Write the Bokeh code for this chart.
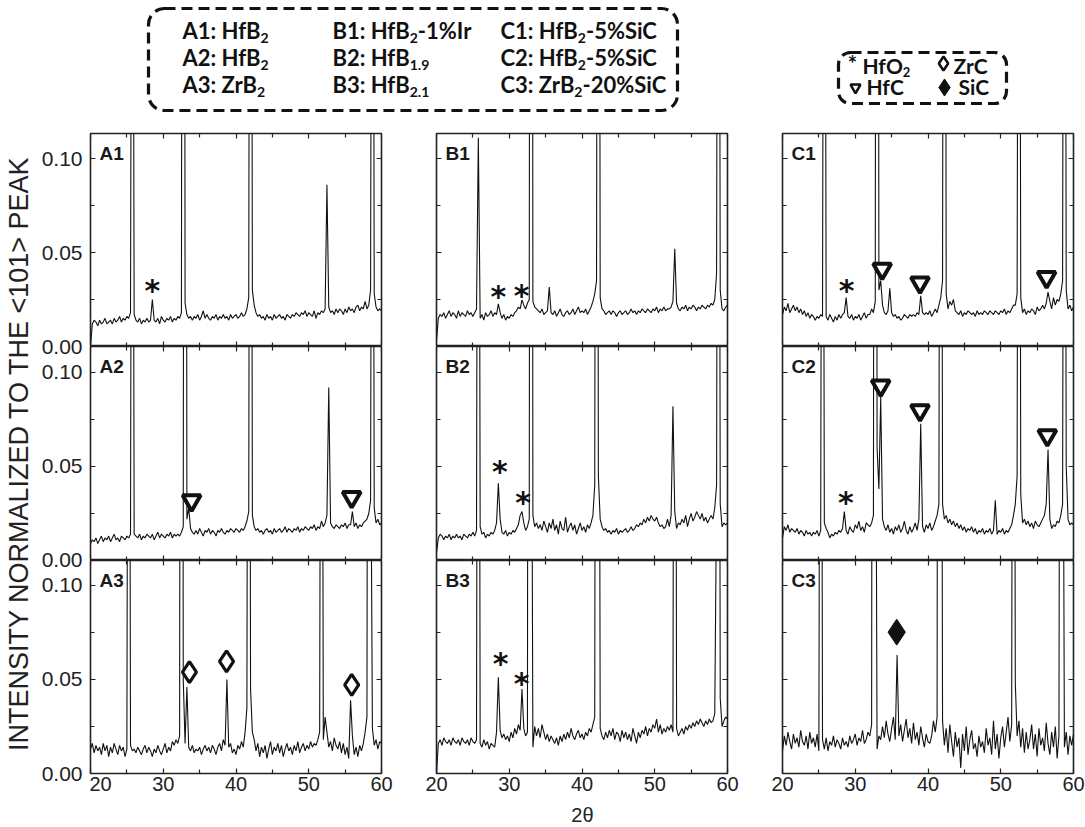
import subprocess
import numpy as np
from bokeh.plotting import figure
from bokeh.models import (Range1d, LinearAxis, FixedTicker, CustomJSTickFormatter,
                          BoxAnnotation, ColumnDataSource, Label)
from bokeh.layouts import row, column
from bokeh.core.properties import value
from bokeh.embed import file_html
from bokeh.resources import INLINE

# ---------------- data (baseline in units of 0.001, 2theta grid 20..60 step 0.25) -------------
X0, STEP = 20.0, 0.25

A1_BASE = [0, 12, 14, 13, 11, 14, 12, 13,
           15, 12, 13, 14, 12, 15, 13, 14,
           16, 13, 15, 14, 16, 15, 18, 17,
           17, 14, 13, 15, 12, 14, 13, 15,
           13, 14, 16, 14, 13, 15, 12, 16,
           14, 13, 15, 14, 16, 13, 15, 14,
           16, 15, 18, 19, 23, 17, 15, 16,
           14, 16, 15, 17, 14, 16, 19, 15,
           17, 15, 14, 16, 15, 17, 14, 16,
           15, 17, 15, 16, 14, 17, 15, 16,
           17, 15, 16, 18, 16, 17, 20, 26,
           30, 30, 22, 18, 16, 17, 15, 16,
           14, 17, 15, 16, 14, 17, 15, 16,
           17, 15, 16, 14, 17, 16, 15, 17,
           16, 18, 17, 16, 18, 17, 19, 16,
           18, 17, 16, 19, 15, 18, 17, 19,
           18, 20, 20, 21, 18, 19, 17, 20,
           18, 20, 19, 17, 20, 18, 21, 19,
           20, 18, 21, 22, 19, 21, 20, 24,
           20, 22, 30, 30, 28, 21, 19, 20,
           19]
A1_PEAKS = [(25.75, 0.45), (28.5, 0.025), (32.75, 1.0), (42.0, 0.62), (52.5, 0.086), (58.75, 0.52)]

A2_BASE = [9, 11, 10, 12, 9, 11, 13, 10,
           12, 11, 13, 10, 12, 14, 11, 12,
           10, 13, 12, 11, 13, 12, 14, 12,
           14, 13, 12, 14, 11, 13, 12, 14,
           13, 12, 14, 11, 13, 15, 12, 14,
           13, 12, 14, 13, 15, 12, 14, 13,
           14, 13, 15, 18, 20, 22, 20, 17,
           15, 14, 16, 14, 17, 15, 13, 16,
           15, 17, 14, 16, 15, 13, 16, 15,
           17, 15, 14, 16, 15, 17, 16, 15,
           17, 16, 15, 17, 16, 18, 21, 26,
           20, 24, 18, 16, 17, 15, 16, 14,
           16, 17, 15, 16, 14, 17, 15, 16,
           17, 15, 16, 18, 15, 17, 16, 15,
           17, 16, 18, 15, 17, 16, 18, 17,
           16, 18, 17, 19, 16, 18, 17, 21,
           18, 20, 24, 20, 20, 18, 17, 19,
           18, 17, 19, 18, 20, 17, 19, 19,
           20, 18, 20, 17, 19, 18, 20, 21,
           22, 25, 32, 30, 28, 20, 22, 19,
           20]
A2_PEAKS = [(25.75, 0.5), (33.0, 1.0), (33.5, 0.028), (42.0, 0.6), (52.75, 0.092),
            (56.0, 0.026), (58.75, 0.5)]

A3_BASE = [13, 16, 11, 15, 12, 14, 10, 16,
           12, 15, 9, 14, 11, 16, 13, 10,
           15, 12, 14, 9, 13, 15, 15, 12,
           13, 11, 14, 12, 10, 13, 15, 11,
           14, 12, 9, 13, 11, 15, 12, 10,
           13, 16, 11, 14, 12, 17, 15, 18,
           16, 20, 20, 20, 16, 20, 14, 12,
           15, 11, 13, 12, 14, 10, 13, 15,
           12, 14, 11, 15, 13, 10, 14, 16,
           12, 18, 15, 15, 14, 16, 11, 13,
           10, 15, 13, 17, 14, 22, 35, 35,
           20, 22, 18, 12, 16, 9, 14, 11,
           15, 8, 13, 17, 10, 14, 12, 16,
           11, 15, 9, 13, 16, 12, 14, 10,
           15, 12, 17, 11, 14, 16, 12, 15,
           13, 17, 14, 16, 15, 18, 22, 22,
           18, 30, 22, 14, 17, 12, 19, 15,
           13, 17, 11, 16, 10, 14, 8, 8,
           20, 10, 14, 9, 15, 12, 16, 22,
           30, 30, 30, 24, 15, 18, 13, 17,
           16]
A3_PEAKS = [(25.25, 0.5), (32.5, 1.0), (32.75, 0.05), (33.25, 0.046), (38.75, 0.05),
            (41.75, 0.6), (42.0, 0.045), (51.75, 0.5), (55.75, 0.039), (58.25, 0.7), (58.5, 0.2)]

B1_BASE = [3, 15, 17, 16, 18, 15, 17, 19,
           16, 18, 17, 15, 19, 16, 18, 17,
           16, 19, 17, 18, 16, 18, 20, 17,
           15, 17, 14, 18, 16, 17, 19, 16,
           18, 17, 22, 18, 15, 17, 14, 16,
           15, 17, 16, 18, 19, 21, 20, 22,
           22, 20, 23, 25, 24, 24, 21, 20,
           19, 18, 20, 17, 18, 19, 17, 18,
           17, 19, 16, 18, 20, 17, 16, 18,
           19, 17, 18, 20, 17, 19, 21, 18,
           19, 18, 20, 17, 19, 21, 24, 28,
           35, 30, 26, 20, 19, 17, 18, 19,
           17, 19, 18, 16, 18, 19, 17, 18,
           19, 17, 18, 20, 18, 19, 17, 19,
           18, 20, 19, 18, 20, 19, 18, 20,
           19, 21, 18, 20, 19, 21, 19, 20,
           20, 21, 24, 24, 23, 20, 19, 21,
           20, 22, 19, 21, 20, 22, 21, 19,
           21, 20, 22, 21, 20, 22, 21, 23,
           22, 25, 39, 30, 30, 20, 19, 21,
           22]
B1_PEAKS = [(25.75, 0.111), (28.5, 0.0227), (31.75, 0.0248), (33.0, 1.0), (35.5, 0.0316),
            (42.25, 0.7), (52.75, 0.052), (58.75, 0.55)]

B2_BASE = [4, 12, 14, 13, 11, 13, 12, 14,
           11, 13, 12, 14, 12, 13, 11, 14,
           13, 12, 14, 13, 15, 13, 16, 15,
           18, 14, 15, 12, 14, 13, 15, 14,
           16, 20, 22, 22, 15, 14, 16, 13,
           15, 14, 16, 15, 17, 19, 24, 24,
           20, 16, 18, 22, 24, 24, 18, 20,
           17, 19, 16, 21, 18, 15, 20, 17,
           22, 16, 19, 14, 21, 17, 16, 23,
           15, 18, 20, 16, 19, 14, 17, 20,
           16, 18, 15, 19, 17, 20, 24, 40,
           40, 45, 22, 18, 16, 17, 15, 16,
           14, 16, 15, 17, 14, 16, 15, 16,
           17, 15, 16, 18, 16, 17, 19, 18,
           20, 19, 22, 20, 23, 21, 24, 22,
           21, 23, 20, 18, 19, 17, 18, 22,
           18, 24, 26, 26, 17, 20, 19, 22,
           20, 24, 18, 22, 25, 21, 23, 26,
           24, 22, 25, 21, 23, 20, 22, 24,
           22, 28, 40, 30, 30, 18, 20, 19,
           20]
B2_PEAKS = [(25.75, 0.5), (28.5, 0.041), (31.75, 0.026), (33.0, 1.0), (42.0, 0.7),
            (52.5, 0.082), (58.75, 0.55)]

B3_BASE = [0, 16, 18, 15, 19, 17, 16, 18,
           15, 19, 17, 16, 18, 15, 19, 17,
           16, 18, 15, 19, 17, 16, 18, 18,
           16, 14, 18, 15, 17, 13, 16, 15,
           14, 22, 22, 23, 19, 21, 18, 20,
           17, 22, 19, 24, 21, 26, 23, 23,
           24, 20, 22, 22, 22, 14, 25, 20,
           24, 19, 26, 22, 18, 21, 17, 20,
           18, 16, 19, 15, 20, 17, 21, 18,
           22, 19, 24, 20, 18, 21, 23, 19,
           21, 18, 22, 20, 24, 22, 26, 30,
           30, 30, 24, 20, 18, 22, 19, 23,
           20, 24, 18, 22, 21, 17, 23, 19,
           22, 18, 21, 17, 24, 20, 16, 22,
           19, 23, 21, 25, 20, 24, 22, 26,
           24, 29, 22, 26, 21, 24, 22, 25,
           23, 26, 22, 22, 24, 20, 22, 24,
           21, 25, 23, 26, 24, 27, 25, 28,
           26, 29, 27, 25, 28, 26, 29, 27,
           28, 32, 32, 32, 40, 25, 28, 30,
           29]
B3_PEAKS = [(25.75, 0.6), (28.5, 0.0512), (31.75, 0.045), (32.75, 1.0), (33.0, 0.3),
            (42.0, 0.7), (42.25, 0.5), (52.75, 0.6), (58.5, 0.15), (58.75, 0.6)]

C1_BASE = [17, 21, 19, 23, 18, 20, 22, 19,
           21, 18, 20, 17, 19, 16, 18, 15,
           17, 16, 14, 16, 15, 17, 16, 18,
           16, 14, 17, 15, 13, 16, 14, 17,
           15, 17, 18, 20, 16, 15, 17, 14,
           16, 15, 17, 14, 16, 18, 15, 17,
           17, 20, 18, 24, 20, 30, 35, 22,
           18, 17, 19, 20, 18, 16, 17, 15,
           16, 14, 15, 17, 16, 15, 17, 16,
           17, 16, 18, 17, 20, 18, 17, 18,
           17, 19, 16, 18, 20, 18, 22, 26,
           35, 30, 28, 20, 24, 22, 25, 19,
           18, 17, 19, 16, 18, 17, 19, 18,
           17, 18, 16, 19, 17, 18, 17, 19,
           18, 17, 19, 18, 17, 19, 18, 17,
           19, 18, 20, 17, 19, 18, 20, 22,
           22, 28, 30, 26, 18, 20, 17, 19,
           18, 20, 19, 17, 21, 19, 20, 22,
           20, 23, 25, 24, 20, 26, 22, 25,
           24, 28, 35, 30, 30, 20, 22, 19,
           21]
C1_PEAKS = [(25.75, 0.5), (28.75, 0.026), (33.0, 1.0), (33.5, 0.035), (34.75, 0.031),
            (39.0, 0.027), (42.25, 0.7), (52.5, 0.5), (56.5, 0.029), (58.75, 0.55)]

C2_BASE = [12, 18, 16, 19, 15, 17, 16, 15,
           17, 14, 16, 15, 13, 16, 14, 15,
           13, 15, 14, 16, 13, 16, 15, 20,
           17, 15, 12, 14, 13, 15, 14, 16,
           15, 17, 20, 16, 14, 18, 16, 15,
           19, 17, 21, 16, 18, 15, 20, 19,
           18, 20, 24, 20, 20, 20, 20, 22,
           18, 16, 19, 15, 17, 14, 18, 16,
           19, 15, 17, 21, 16, 14, 18, 15,
           17, 20, 16, 22, 18, 18, 15, 19,
           17, 20, 16, 18, 21, 24, 30, 30,
           30, 22, 24, 20, 22, 19, 21, 18,
           20, 17, 19, 16, 18, 15, 17, 16,
           18, 15, 17, 14, 16, 15, 17, 14,
           16, 15, 17, 14, 16, 14, 14, 16,
           15, 17, 14, 16, 15, 17, 19, 24,
           30, 45, 30, 35, 20, 22, 19, 21,
           18, 20, 17, 21, 19, 18, 20, 22,
           24, 30, 30, 22, 17, 19, 18, 21,
           20, 24, 30, 30, 50, 22, 19, 20,
           19]
C2_PEAKS = [(25.5, 0.5), (28.5, 0.026), (32.75, 1.0), (33.0, 0.06), (33.25, 0.038),
            (33.5, 0.087), (39.0, 0.0727), (41.75, 0.6), (49.25, 0.032), (52.5, 0.6),
            (56.5, 0.059), (58.75, 0.5)]

C3_BASE = [12, 20, 15, 22, 17, 13, 21, 16,
           19, 14, 23, 17, 15, 20, 13, 22,
           16, 19, 14, 21, 12, 18, 18, 13,
           19, 12, 17, 15, 20, 14, 18, 16,
           13, 19, 15, 17, 14, 20, 16, 18,
           21, 15, 19, 17, 23, 16, 18, 22,
           20, 26, 26, 26, 13, 20, 18, 25,
           19, 28, 21, 17, 24, 30, 18, 18,
           20, 26, 17, 23, 29, 19, 24, 16,
           27, 18, 22, 15, 25, 19, 14, 21,
           17, 16, 20, 28, 22, 30, 30, 30,
           28, 15, 24, 11, 26, 17, 9, 22,
           14, 19, 3, 21, 12, 25, 10, 18,
           23, 13, 16, 9, 20, 14, 17, 11,
           24, 15, 19, 10, 28, 13, 21, 8,
           19, 25, 14, 22, 30, 17, 26, 26,
           48, 20, 28, 14, 24, 11, 22, 13,
           18, 26, 13, 21, 9, 24, 15, 19,
           12, 27, 16, 10, 22, 14, 25, 8,
           20, 20, 20, 14, 22, 10, 20, 15,
           21]
C3_PEAKS = [(25.25, 0.5), (32.5, 1.0), (32.75, 0.3), (35.75, 0.063), (41.5, 1.0),
            (41.75, 0.5), (51.75, 0.6), (52.0, 0.048), (58.25, 0.6), (58.5, 0.3)]

# phase markers (2theta, intensity)
STAR = {"A1": [(28.5, 0.0324)], "B1": [(28.5, 0.029), (31.7, 0.0298)],
        "B2": [(28.7, 0.050), (31.9, 0.0337)], "B3": [(28.8, 0.061), (31.7, 0.0507)],
        "C1": [(28.8, 0.0324)], "C2": [(28.7, 0.0337)]}
HFC = {"A2": [(33.9, 0.0319), (55.9, 0.0337)],
       "C1": [(33.7, 0.0413), (38.9, 0.034), (56.3, 0.0368)],
       "C2": [(33.5, 0.093), (38.9, 0.0798), (56.4, 0.0665)]}
ZRC = {"A3": [(33.6, 0.0539), (38.7, 0.0596), (55.9, 0.0472)]}
SIC = {"C3": [(35.7, 0.0752)]}

X_TICKS = [20, 30, 40, 50, 60]
X_MINOR = [25, 35, 45, 55]
Y_TICKS = [0.0, 0.05, 0.10]
Y_MINOR = [0.025, 0.075]
Y_TOP = {1: 0.1133, 2: 0.1138, 3: 0.1133}

PANELS = {"A1": (A1_BASE, A1_PEAKS), "A2": (A2_BASE, A2_PEAKS), "A3": (A3_BASE, A3_PEAKS),
          "B1": (B1_BASE, B1_PEAKS), "B2": (B2_BASE, B2_PEAKS), "B3": (B3_BASE, B3_PEAKS),
          "C1": (C1_BASE, C1_PEAKS), "C2": (C2_BASE, C2_PEAKS), "C3": (C3_BASE, C3_PEAKS)}

LEGEND_ROWS = [
    [[("A1: HfB", 0), ("2", 1)], [("B1: HfB", 0), ("2", 1), ("-1%Ir", 0)], [("C1: HfB", 0), ("2", 1), ("-5%SiC", 0)]],
    [[("A2: HfB", 0), ("2", 1)], [("B2: HfB", 0), ("1.9", 1)], [("C2: HfB", 0), ("2", 1), ("-5%SiC", 0)]],
    [[("A3: ZrB", 0), ("2", 1)], [("B3: HfB", 0), ("2.1", 1)], [("C3: ZrB", 0), ("2", 1), ("-20%SiC", 0)]],
]
YLABEL = "INTENSITY NORMALIZED TO THE <101> PEAK"
XLABEL = "2θ"

# ---------------- helpers ----------------
FONT = "Liberation Sans"
LEG_FONT = "Lato"
LEG_SIZE = 22
SUB_SIZE = 14
LEG2_SIZE = 21
INK = "#222222"


def font_file(pattern):
    try:
        return subprocess.run(["fc-match", "-f", "%{file}", pattern],
                              capture_output=True, text=True, timeout=10).stdout.strip()
    except Exception:
        return ""


_LATO_B = font_file("Lato:bold")


def text_w(s, size):
    try:
        from PIL import ImageFont
        return ImageFont.truetype(_LATO_B, size).getlength(s)
    except Exception:
        return 0.56 * size * len(s)


def series(base, peaks):
    x = X0 + STEP * np.arange(len(base))
    y = np.array(base, dtype=float) * 0.001
    for px, py in peaks:
        y[int(round((px - X0) / STEP))] = py
    return x, y


def no_grid(p):
    for g in p.grid:
        g.visible = False


COLS = {"A": (1, 27), "B": (28, 27), "C": (28, 12)}
ROWS = {1: (1, 213, 0), 2: (0, 214, 0), 3: (0, 213, 54)}
FRAME_W = 291
PX_PER_UNIT = 213 / 0.1133
XL_H = 24   # strip below B3 holding the x title


def tick_style(ax):
    ax.axis_line_color = None
    ax.major_tick_in = 5
    ax.major_tick_out = 0
    ax.minor_tick_in = 4
    ax.minor_tick_out = 0
    ax.major_tick_line_color = INK
    ax.minor_tick_line_color = INK
    ax.major_tick_line_width = 1.2
    ax.minor_tick_line_width = 1.2


def panel(name):
    col, r = name[0], int(name[1])
    bl, br = COLS[col]
    bt, fh, bb = ROWS[r]
    if r == 3 and col == "B":
        bb -= XL_H
    ytop = Y_TOP[r]
    p = figure(width=bl + FRAME_W + br, height=bt + fh + bb, title=None,
               x_range=Range1d(20, 60), y_range=Range1d(0, ytop),
               min_border_left=bl, min_border_right=br, min_border_top=bt, min_border_bottom=bb,
               x_axis_location=None, y_axis_location=None,
               toolbar_location=None, tools="", output_backend="svg")
    no_grid(p)
    p.outline_line_color = INK
    p.outline_line_width = 1.6
    p.background_fill_color = "white"
    p.border_fill_color = "white"

    for side, loc in (("left", 20), ("right", 60)):
        ax = LinearAxis(ticker=FixedTicker(ticks=Y_TICKS, minor_ticks=Y_MINOR), fixed_location=loc)
        tick_style(ax)
        ax.major_label_text_color = None
        p.add_layout(ax, side)
    ax = LinearAxis(ticker=FixedTicker(ticks=X_TICKS, minor_ticks=X_MINOR), fixed_location=ytop)
    tick_style(ax)
    ax.major_label_text_color = None
    p.add_layout(ax, "above")
    if r == 3:
        ax = LinearAxis(ticker=FixedTicker(ticks=X_TICKS, minor_ticks=X_MINOR))
        tick_style(ax)
        ax.major_label_text_font = FONT
        ax.major_label_text_font_size = "20px"
        ax.major_label_text_color = "#222222"
        ax.major_label_standoff = 3
    else:
        ax = LinearAxis(ticker=FixedTicker(ticks=X_TICKS, minor_ticks=X_MINOR), fixed_location=0)
        tick_style(ax)
        ax.major_label_text_color = None
    p.add_layout(ax, "below")

    base, peaks = PANELS[name]
    x, y = series(base, peaks)
    p.line(x="x", y="y", source=ColumnDataSource(dict(x=x, y=y)), line_color="#111111", line_width=1.1)

    if name in STAR:
        xs, ys = zip(*STAR[name])
        p.text(x=list(xs), y=list(ys), text=["*"] * len(xs), text_font=value("DejaVu Sans"),
               text_font_style="bold", text_font_size="30px", text_align="center",
               text_baseline="alphabetic", y_offset=5, text_color="#111111")
    if name in HFC:
        xs, ys = zip(*HFC[name])
        p.scatter(list(xs), list(ys), marker="inverted_triangle", size=18, fill_color="white",
                  line_color="#111111", line_width=4)
    if name in ZRC:
        xs, ys = zip(*ZRC[name])
        p.scatter(list(xs), list(ys), marker="diamond", size=21, fill_color="white",
                  line_color="#111111", line_width=3.2)
    if name in SIC:
        xs, ys = zip(*SIC[name])
        p.scatter(list(xs), list(ys), marker="diamond", size=26, fill_color="#111111",
                  line_color="#111111", line_width=1)

    p.add_layout(Label(x=20 + 9 * 40 / FRAME_W, y=ytop - 20 / PX_PER_UNIT, text=name,
                       text_font=FONT, text_font_style="bold", text_font_size="19px",
                       text_color="#1a1a1a", text_baseline="alphabetic"))
    return p


# ---------------- label column (y tick labels for the three rows + y title) ----------------
H1, H2, H3 = Y_TOP[1], Y_TOP[2], Y_TOP[3]
ROW_OFFSETS = [0.0, H3, H3 + H2]          # bottom of rows 3, 2, 1 on the stacked scale
stack_ticks = [o + t for o in ROW_OFFSETS for t in Y_TICKS]
lab = figure(width=89, height=695, title=None, x_range=Range1d(0, 1),
             y_range=Range1d(0, H1 + H2 + H3),
             min_border_left=88, min_border_right=0, min_border_top=1, min_border_bottom=54,
             x_axis_location=None, y_axis_location=None,
             toolbar_location=None, tools="", output_backend="svg")
no_grid(lab)
lab.outline_line_color = None
yax = LinearAxis(ticker=FixedTicker(ticks=stack_ticks, minor_ticks=[]),
                 formatter=CustomJSTickFormatter(args=dict(offs=ROW_OFFSETS), code="""
                     let o = 0;
                     for (const v of offs) { if (tick >= v - 1e-6) { o = v; } }
                     return (tick - o).toFixed(2);
                 """))
yax.axis_line_color = None
yax.major_tick_in = 0
yax.major_tick_out = 0
yax.minor_tick_in = 0
yax.minor_tick_out = 0
yax.major_label_text_font = FONT
yax.major_label_text_font_size = "21px"
yax.major_label_text_color = "#222222"
yax.major_label_standoff = 6
yax.axis_label = YLABEL
yax.axis_label_text_font = FONT
yax.axis_label_text_font_size = "27px"
yax.axis_label_text_font_style = "normal"
yax.axis_label_text_color = "#222222"
yax.axis_label_standoff = 5
lab.add_layout(yax, "left")

# ---------------- x title strip under B3 ----------------
xl = figure(width=28 + FRAME_W + 27, height=XL_H, title=None,
            x_range=Range1d(0, 28 + FRAME_W + 27), y_range=Range1d(0, XL_H),
            min_border=0, x_axis_location=None, y_axis_location=None,
            toolbar_location=None, tools="", output_backend="svg")
no_grid(xl)
xl.outline_line_color = None
xl.text(x=[28 + FRAME_W / 2], y=[XL_H / 2 + 1], text=[XLABEL], text_font=value(FONT),
        text_font_size="20px", text_align="center", text_baseline="alphabetic", text_color="#222222")

# ---------------- top legend strip (coordinates = page pixels) ----------------
TOP_H = 132
top = figure(width=1085, height=TOP_H, title=None, x_range=Range1d(0, 1085), y_range=Range1d(0, TOP_H),
             min_border=0, x_axis_location=None, y_axis_location=None,
             toolbar_location=None, tools="", output_backend="svg")
no_grid(top)
top.outline_line_color = None


def ty(py):
    return TOP_H - py


for l, r_, t, b, rad in ((148, 677, 8, 110, 16), (838, 1006, 52, 103, 12)):
    top.add_layout(BoxAnnotation(left=l, right=r_, top=ty(t), bottom=ty(b),
                                 fill_color=None, fill_alpha=0, line_color="#111111", line_alpha=1.0,
                                 line_width=3.2, line_dash="11 6", border_radius=rad))

LEG_COL_X = [182, 332, 500]
LEG_ROW_Y = [30, 57, 84]
nx, ny, nt, sx, sy, st = [], [], [], [], [], []
for ri, rowitems in enumerate(LEGEND_ROWS):
    for ci, pieces in enumerate(rowitems):
        cx = LEG_COL_X[ci]
        for txt, is_sub in pieces:
            if is_sub:
                sx.append(cx); sy.append(ty(LEG_ROW_Y[ri] + 7)); st.append(txt)
                cx += text_w(txt, SUB_SIZE)
            else:
                nx.append(cx); ny.append(ty(LEG_ROW_Y[ri])); nt.append(txt)
                cx += text_w(txt, LEG_SIZE)

top.text(x=nx, y=ny, text=nt, text_font=value(LEG_FONT), text_font_style="bold",
         text_font_size=f"{LEG_SIZE}px", text_baseline="alphabetic", text_align="left",
         text_color="#111111")
top.text(x=sx, y=sy, text=st, text_font=value(LEG_FONT), text_font_style="bold",
         text_font_size=f"{SUB_SIZE}px", text_baseline="alphabetic", text_align="left",
         text_color="#111111")

# second legend: phases
l2x, l2y, l2t = [], [], []
for txt, px, py in (("HfO", 862, 65), ("ZrC", 953, 65), ("HfC", 866, 86), ("SiC", 958, 86)):
    l2x.append(px); l2y.append(ty(py)); l2t.append(txt)
top.text(x=l2x, y=l2y, text=l2t, text_font=value(LEG_FONT), text_font_style="bold",
         text_font_size=f"{LEG2_SIZE}px", text_baseline="alphabetic", text_align="left",
         text_color="#111111")
top.text(x=[862 + text_w("HfO", LEG2_SIZE)], y=[ty(71)], text=["2"], text_font=value(LEG_FONT),
         text_font_style="bold", text_font_size="13px", text_baseline="alphabetic",
         text_align="left", text_color="#111111")
top.text(x=[852], y=[ty(63)], text=["*"], text_font=value(LEG_FONT), text_font_style="bold",
         text_font_size="22px", text_baseline="alphabetic", text_align="center", text_color="#111111")
top.scatter([943], [ty(63)], marker="diamond", size=14, fill_color="white",
            line_color="#111111", line_width=2.5)
top.scatter([855], [ty(87)], marker="inverted_triangle", size=10, fill_color="white",
            line_color="#111111", line_width=2.5)
top.scatter([944], [ty(87)], marker="diamond", size=17, fill_color="#111111",
            line_color="#111111", line_width=1)

# ---------------- layout ----------------
grid = row(lab,
           column(panel("A1"), panel("A2"), panel("A3")),
           column(panel("B1"), panel("B2"), panel("B3"), xl),
           column(panel("C1"), panel("C2"), panel("C3")))
page = column(top, grid)

open("out.html", "w").write(file_html(page, INLINE))
